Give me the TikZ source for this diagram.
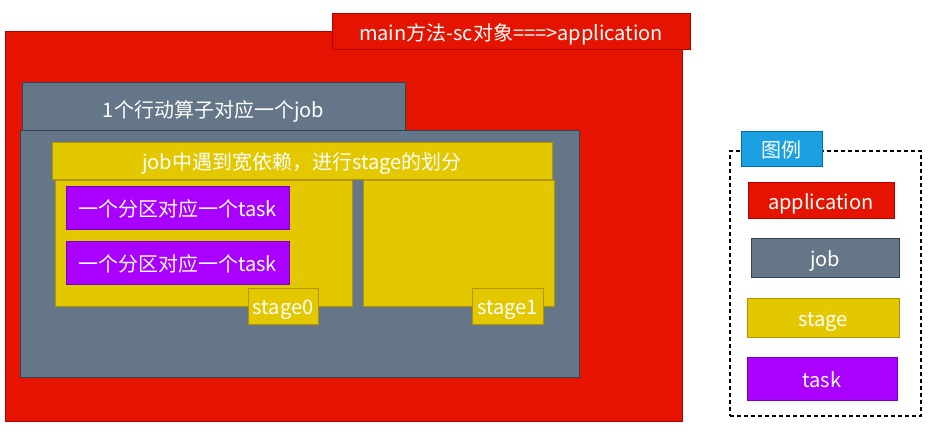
\documentclass[tikz,border=0pt]{standalone}
\usepackage{fontspec}
\setmainfont{Noto Sans CJK SC}
\usepackage{tikz}
\usetikzlibrary{shapes,positioning}
\usepackage{xcolor}
\definecolor{appcolor}{RGB}{229,20,0}
\definecolor{appline}{RGB}{178,0,0}
\definecolor{jobcolor}{RGB}{100,118,135}
\definecolor{jobline}{RGB}{49,67,84}
\definecolor{stagecolor}{RGB}{227,200,0}
\definecolor{stageline}{RGB}{176,149,0}
\definecolor{taskcolor}{RGB}{170,0,255}
\definecolor{taskline}{RGB}{119,0,204}
\definecolor{legendcolor}{RGB}{27,161,226}
\definecolor{legendline}{RGB}{0,110,175}

\begin{document}
\begin{tikzpicture}[
    x=1pt, y=-1pt,
    box/.style={rectangle, line width=1pt, inner sep=0pt, text=white, text height=20pt, text depth=3pt, font=\fontsize{20}{23}\selectfont},
    appbox/.style={box, fill=appcolor, draw=appline},
    jobbox/.style={box, fill=jobcolor, draw=jobline},
    stagebox/.style={box, fill=stagecolor, draw=stageline},
    taskbox/.style={box, fill=taskcolor, draw=taskline},
    keybox/.style={box, fill=legendcolor, draw=legendline}
]
\useasboundingbox (0,0) rectangle (940,435);

% Application
\node[appbox, minimum width=677, minimum height=390] (app) at (343.5,227) {};
\node[appbox, minimum width=358, minimum height=36] (apptitle) at (511,32) {main方法-sc对象===>application};

% Job
\node[jobbox, minimum width=383, minimum height=49] (jobhead) at (213.5,107.5) {\raisebox{-2pt}{1个行动算子对应一个job}};
\node[jobbox, minimum width=559, minimum height=247] (job) at (299.5,254.5) {};

% Stages
\node[stagebox, minimum width=500, minimum height=37] (stagehead) at (302,161.5) {job中遇到宽依赖，进行stage的划分};
\node[stagebox, minimum width=297, minimum height=126] (stage0) at (203.5,243.5) {};
\node[stagebox, minimum width=191, minimum height=126] (stage1) at (458.5,243.5) {};

% Tasks
\node[taskbox, minimum width=223, minimum height=43] (task1) at (177.5,208.5) {一个分区对应一个task};
\node[taskbox, minimum width=223, minimum height=43] (task2) at (177.5,263.5) {一个分区对应一个task};

% Stage labels
\node[stagebox, minimum width=70, minimum height=36] (stage0label) at (283,306.5) {stage0};
\node[stagebox, minimum width=71, minimum height=36] (stage1label) at (507.5,306.5) {stage1};

% Legend
\node[rectangle, draw=black, line width=1.2pt, dash pattern=on 4pt off 3pt, minimum width=191, minimum height=265] (legend) at (825.5,283.5) {};
\node[keybox, minimum width=81, minimum height=35] (legendtitle) at (781.5,149.5) {图例};
\node[appbox, minimum width=146, minimum height=36] (keyapp) at (821,201) {application};
\node[jobbox, minimum width=148, minimum height=39] (keyjob) at (825,258.5) {job};
\node[stagebox, minimum width=152, minimum height=39] (keystage) at (823,318.5) {stage};
\node[taskbox, minimum width=150, minimum height=43] (keytask) at (822,379.5) {task};

\end{tikzpicture}
\end{document}
